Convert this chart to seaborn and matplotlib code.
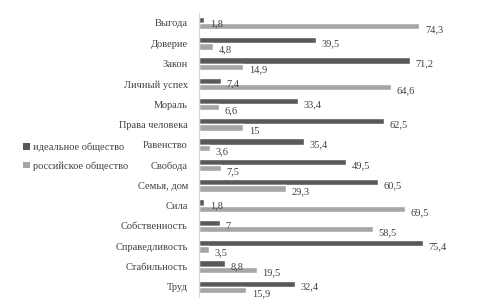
import matplotlib
matplotlib.use("Agg")
import matplotlib.pyplot as plt
import seaborn as sns
import pandas as pd
from matplotlib.patches import Patch

categories = ["Выгода", "Доверие", "Закон", "Личный успех", "Мораль", "Права человека",
              "Равенство", "Свобода", "Семья, дом", "Сила", "Собственность",
              "Справедливость", "Стабильность", "Труд"]
ideal = [1.8, 39.5, 71.2, 7.4, 33.4, 62.5, 35.4, 49.5, 60.5, 1.8, 7, 75.4, 8.8, 32.4]
russian = [74.3, 4.8, 14.9, 64.6, 6.6, 15, 3.6, 7.5, 29.3, 69.5, 58.5, 3.5, 19.5, 15.9]
series = ["идеальное общество", "российское общество"]
colors = ["#595959", "#a6a6a6"]

df = pd.DataFrame({
    "cat": categories * 2,
    "val": ideal + russian,
    "series": [series[0]] * len(categories) + [series[1]] * len(categories),
})

sns.set_theme(style="white")
plt.rcParams["font.family"] = ["Liberation Serif", "DejaVu Serif"]

fig = plt.figure(figsize=(4.8, 3.08), dpi=100)
ax = fig.add_axes([199 / 480, 1 - 297 / 308, 261 / 480, (297 - 12.85) / 308])

sns.barplot(data=df, y="cat", x="val", hue="series", order=categories,
            hue_order=series, palette=colors, orient="h", width=0.62,
            ax=ax, legend=False, saturation=1, errorbar=None)

for cont in ax.containers:
    vals = [r.get_width() for r in cont]
    labs = [f"{v:g}".replace(".", ",") for v in vals]
    texts = ax.bar_label(cont, labels=labs, padding=4, fontsize=7.5, color="#404040")
    for t in texts:
        t.xyann = (t.xyann[0], -2.5)

ax.set_xlim(0, 88)
ax.set_ylim(13.5, -0.5)
ax.set_xlabel("")
ax.set_ylabel("")
ax.set_xticks([])
ax.tick_params(axis="y", length=0, pad=8, labelsize=7.5, labelcolor="#404040")
for s in ["top", "right", "bottom"]:
    ax.spines[s].set_visible(False)
ax.spines["left"].set_color("#d9d9d9")
ax.spines["left"].set_linewidth(0.8)

handles = [Patch(facecolor=c, edgecolor="none") for c in colors]
fig.legend(handles, series, loc="upper left", bbox_to_anchor=(14 / 480, 1 - 133 / 308),
           frameon=False, fontsize=7.5, handlelength=0.6, handleheight=0.6,
           handletextpad=0.3, labelspacing=0.9, labelcolor="#404040")

fig.savefig("out.png", dpi=100)
